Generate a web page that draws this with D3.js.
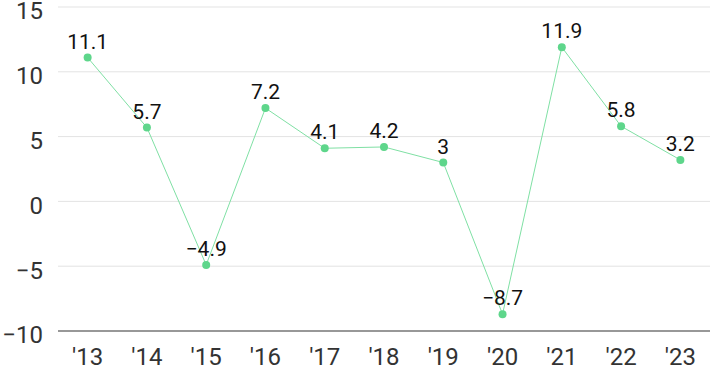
<!DOCTYPE html>
<html>
<head>
<meta charset="utf-8">
<script src="https://cdn.jsdelivr.net/npm/d3@7"></script>
<style>
  body { margin: 0; background: #fff; }
  svg { display: block; font-family: Roboto, "Noto Sans", sans-serif; }
</style>
</head>
<body>
<svg id="chart" width="710" height="371"></svg>
<script>
const years = ["'13", "'14", "'15", "'16", "'17", "'18", "'19", "'20", "'21", "'22", "'23"];
const values = [11.1, 5.7, -4.9, 7.2, 4.1, 4.2, 3, -8.7, 11.9, 5.8, 3.2];
const yTicks = [-10, -5, 0, 5, 10, 15];

const svg = d3.select("#chart");
const margin = { top: 7, right: 0, bottom: 40, left: 58 };
const width = 710 - margin.left - margin.right;
const height = 371 - margin.top - margin.bottom;

const g = svg.append("g").attr("transform", `translate(${margin.left},${margin.top})`);

const x = d3.scaleBand().domain(years).range([0, width]).padding(0);
const y = d3.scaleLinear().domain([-10, 15]).range([height, 0]);

// grid lines
g.selectAll(".grid")
    .data(yTicks.filter(d => d !== -10))
    .enter()
    .append("line")
    .attr("x1", 0)
    .attr("x2", width)
    .attr("y1", d => y(d))
    .attr("y2", d => y(d))
    .attr("stroke", "#e3e3e3")
    .attr("stroke-width", 1);

// baseline
g.append("line")
    .attr("x1", 0)
    .attr("x2", width)
    .attr("y1", y(-10))
    .attr("y2", y(-10))
    .attr("stroke", "#333")
    .attr("stroke-width", 1.2);

// y labels
g.selectAll(".ylab")
    .data(yTicks)
    .enter()
    .append("text")
    .attr("x", -15)
    .attr("y", d => y(d))
    .attr("dy", "0.52em")
    .attr("text-anchor", "end")
    .attr("font-size", 24)
    .attr("fill", "#333")
    .text(d => d < 0 ? "\u2212" + Math.abs(d) : d);

// x labels
g.selectAll(".xlab")
    .data(years)
    .enter()
    .append("text")
    .attr("x", d => x(d) + x.bandwidth() / 2)
    .attr("y", height + 34)
    .attr("text-anchor", "middle")
    .attr("font-size", 24)
    .attr("fill", "#333")
    .text(d => d);

const pts = years.map((d, i) => ({ year: d, v: values[i] }));

// line
const line = d3.line()
    .x(d => x(d.year) + x.bandwidth() / 2)
    .y(d => y(d.v));

g.append("path")
    .datum(pts)
    .attr("d", line)
    .attr("fill", "none")
    .attr("stroke", "#7fe0a4")
    .attr("stroke-width", 1);

// points
g.selectAll(".pt")
    .data(pts)
    .enter()
    .append("circle")
    .attr("cx", d => x(d.year) + x.bandwidth() / 2)
    .attr("cy", d => y(d.v))
    .attr("r", 4)
    .attr("fill", "#5ed68b");

// value labels
g.selectAll(".vlab")
    .data(pts)
    .enter()
    .append("text")
    .attr("x", d => x(d.year) + x.bandwidth() / 2)
    .attr("y", d => y(d.v) - 9)
    .attr("text-anchor", "middle")
    .attr("font-size", 21)
    .attr("fill", "#111")
    .text(d => d.v < 0 ? "\u2212" + Math.abs(d.v) : d.v);
</script>
</body>
</html>
